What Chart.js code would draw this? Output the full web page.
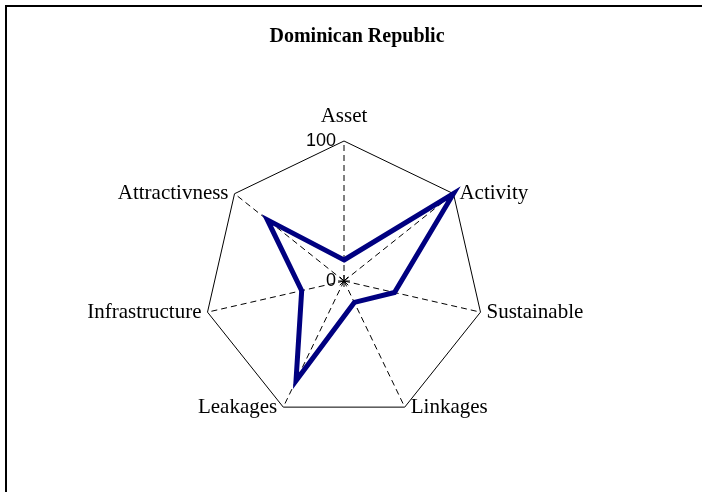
<!DOCTYPE html>
<html>
<head>
<meta charset="utf-8">
<title>Dominican Republic</title>
<script src="https://cdn.jsdelivr.net/npm/chart.js@4.4.1/dist/chart.umd.min.js"></script>
<style>
  html, body { margin: 0; padding: 0; background: #fff; }
  .frame {
    position: absolute; left: 5px; top: 5px; width: 697px; height: 487px;
    border-top: 2px solid #000; border-left: 2px solid #000; box-sizing: border-box;
  }
  .wrap { position: absolute; left: 0; top: 0; width: 702px; height: 492px; }
</style>
</head>
<body>
<div class="frame"></div>
<div class="wrap"><canvas id="radarChart"></canvas></div>
<script>
// Chart data
const categories = ["Asset", "Activity", "Sustainable", "Linkages", "Leakages", "Infrastructure", "Attractivness"]
const scores = [15, 100, 37, 17, 79, 31, 70]
const tickValues = [0, 100]

// Axis names, tick labels and the little star in the middle
const radarLabels = {
  id: "radarLabels",
  afterDraw(chart) {
    const ctx = chart.ctx
    const scale = chart.scales.r
    ctx.save()
    ctx.fillStyle = "#000"

    ctx.font = '21px "Liberation Serif"'
    categories.forEach((name, i) => {
      const p = scale.getPointPositionForValue(i, scale.max)
      const dx = p.x - scale.xCenter
      if (Math.abs(dx) < 1) {
        ctx.textAlign = "center"
        ctx.textBaseline = "alphabetic"
        ctx.fillText(name, p.x, p.y - 19)
      } else {
        ctx.textAlign = dx > 0 ? "left" : "right"
        ctx.textBaseline = "middle"
        ctx.fillText(name, p.x + (dx > 0 ? 6 : -6), p.y)
      }
    })

    ctx.font = '18px "Liberation Sans"'
    ctx.textAlign = "right"
    ctx.textBaseline = "middle"
    tickValues.forEach((v) => {
      const p = scale.getPointPositionForValue(0, v)
      ctx.fillText(String(v), p.x - 8, p.y)
    })

    // center marker
    ctx.strokeStyle = "#000"
    ctx.lineWidth = 1
    ctx.beginPath()
    for (let a = 0; a < 4; a++) {
      const ang = (a * Math.PI) / 4
      ctx.moveTo(scale.xCenter - 6 * Math.cos(ang), scale.yCenter - 6 * Math.sin(ang))
      ctx.lineTo(scale.xCenter + 6 * Math.cos(ang), scale.yCenter + 6 * Math.sin(ang))
    }
    ctx.stroke()
    ctx.restore()
  },
}

const ctx = document.getElementById("radarChart")
new Chart(ctx, {
  type: "radar",
  data: {
    labels: categories,
    datasets: [
      {
        label: "Dominican Republic",
        data: scores,
        borderColor: "#000080",
        borderWidth: 5,
        borderJoinStyle: "miter",
        fill: false,
        pointRadius: 0,
        pointHoverRadius: 0,
        tension: 0,
      },
    ],
  },
  options: {
    responsive: true,
    maintainAspectRatio: false,
    animation: false,
    devicePixelRatio: 1,
    layout: {
      padding: { left: 12, right: 0, top: 0, bottom: 71 },
    },
    scales: {
      r: {
        min: 0,
        max: 100,
        ticks: { display: false, stepSize: 100 },
        pointLabels: { display: false },
        grid: { color: "#000", lineWidth: 1 },
        angleLines: { color: "#000", lineWidth: 1, borderDash: [6, 4] },
        // nudge the web left of the title's center, like the original
        afterFit: (scale) => {
          scale.xCenter -= 13
        },
      },
    },
    plugins: {
      legend: { display: false },
      tooltip: { enabled: false },
      title: {
        display: true,
        text: "Dominican Republic",
        color: "#000",
        font: { family: "Liberation Serif", size: 20, weight: "bold" },
        padding: { top: 25, bottom: 92 },
      },
    },
  },
  plugins: [radarLabels],
})
</script>
</body>
</html>
